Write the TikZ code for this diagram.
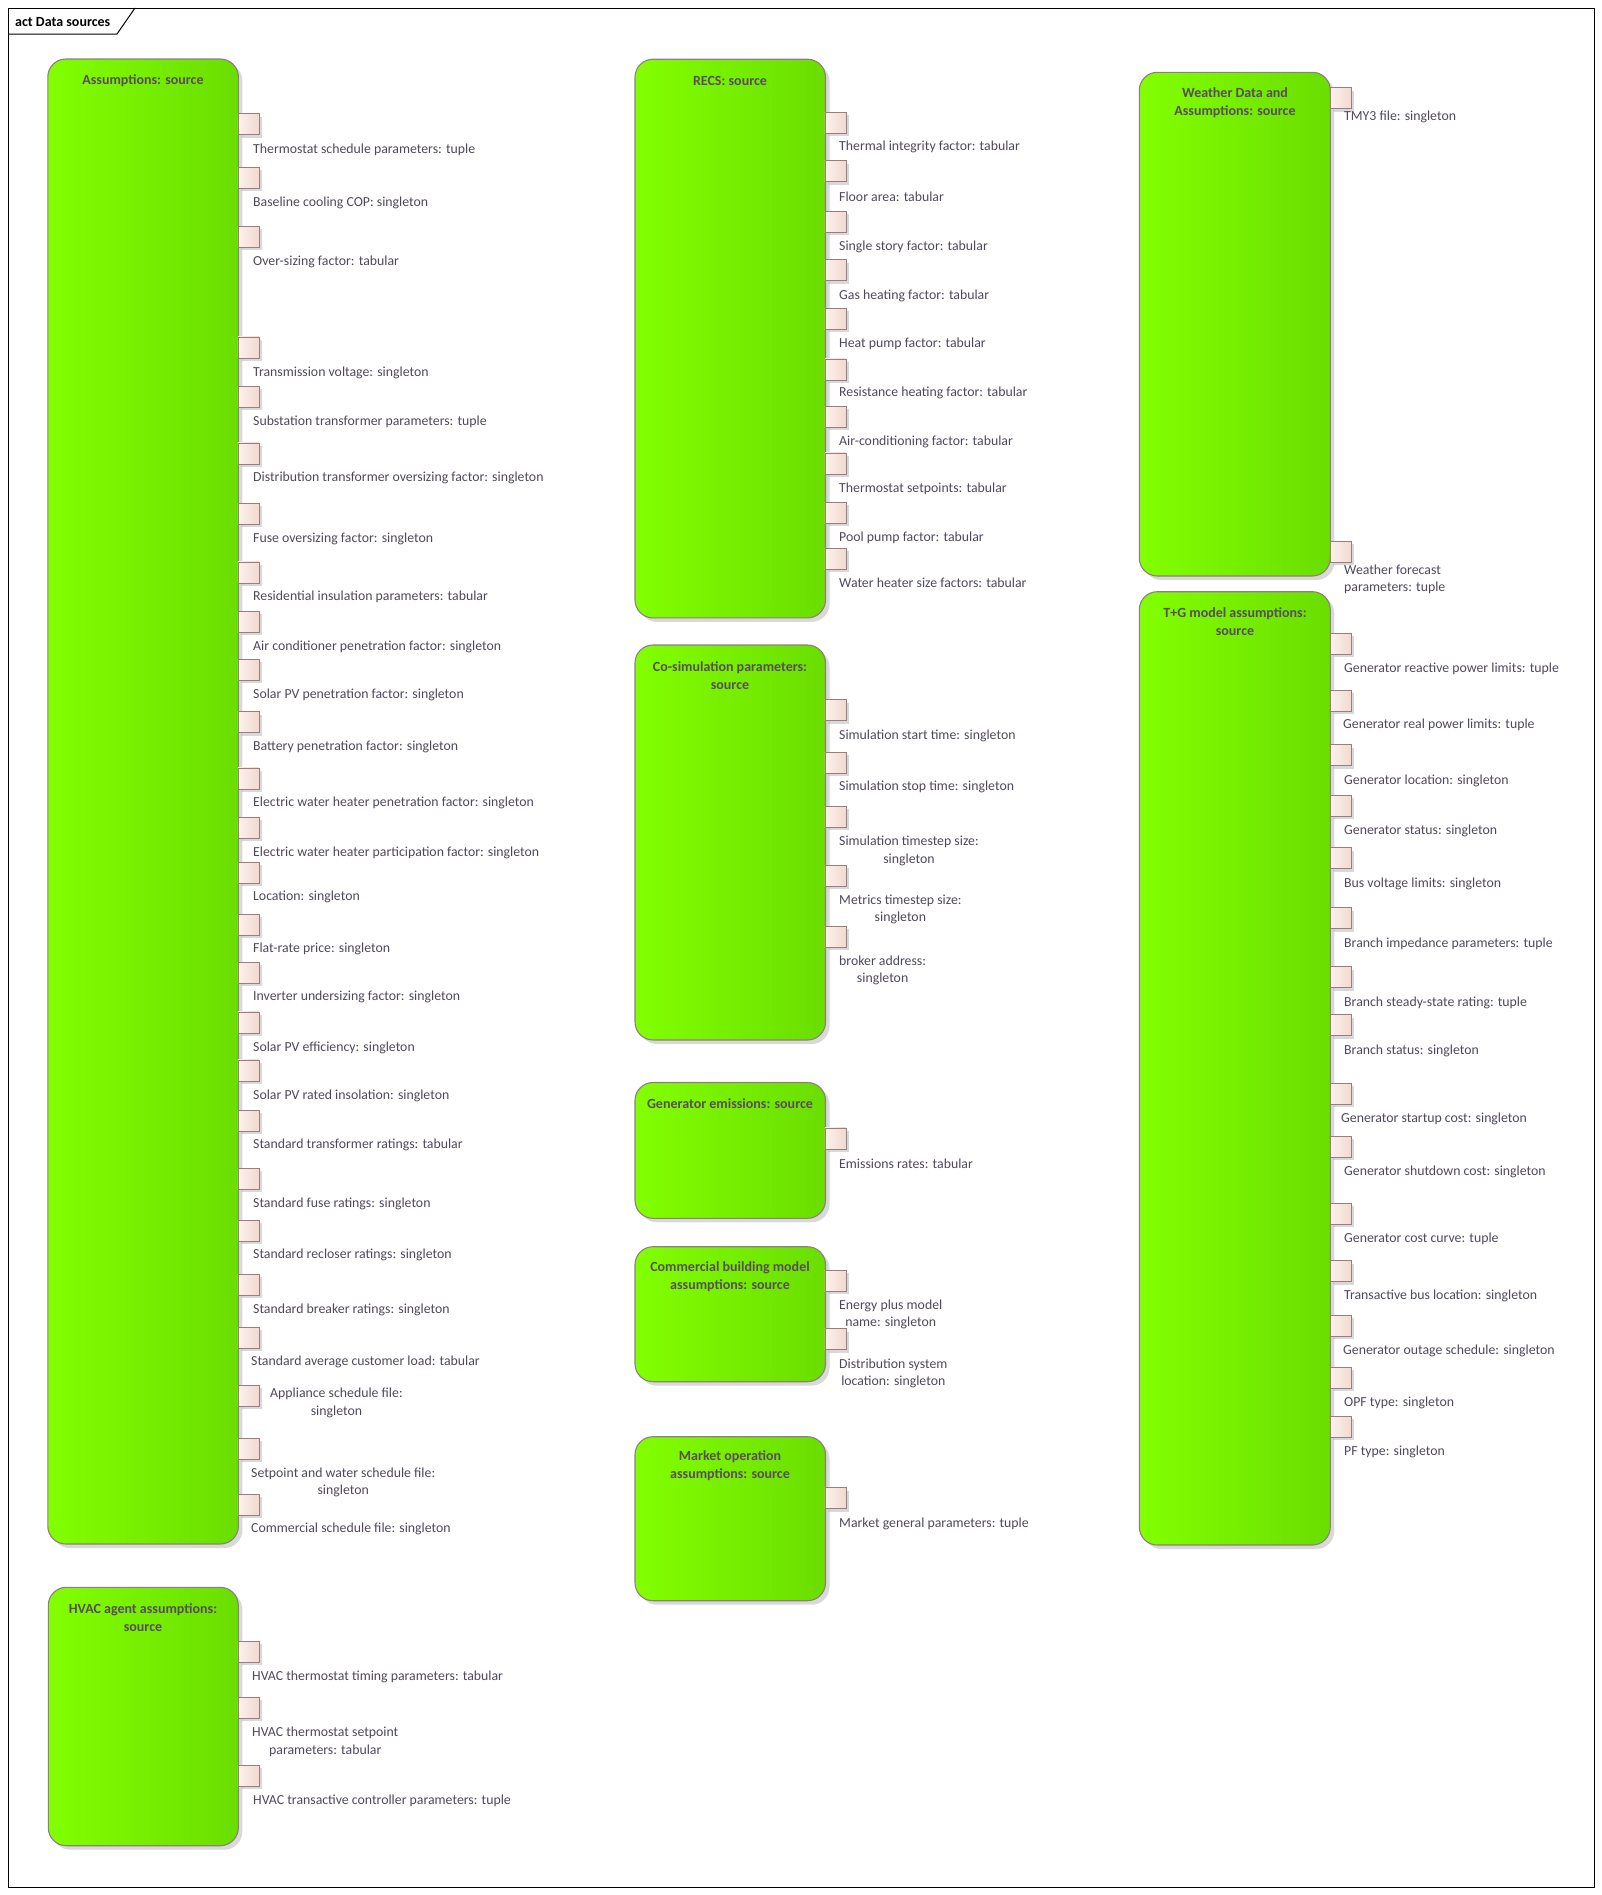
\documentclass[tikz,border=0pt]{standalone}
\usepackage{fontspec}
\setmainfont{Carlito}
\usetikzlibrary{shadows}
\definecolor{greenL}{RGB}{130,255,0}
\definecolor{greenR}{RGB}{106,222,0}
\definecolor{boxborder}{RGB}{145,125,128}
\definecolor{portL}{RGB}{252,241,236}
\definecolor{portR}{RGB}{240,218,208}
\definecolor{portborder}{RGB}{155,125,125}
\definecolor{txtc}{RGB}{80,72,90}
\definecolor{ttlc}{RGB}{90,76,92}
\begin{document}
\begin{tikzpicture}[x=1pt,y=-1pt,
  srcbox/.style={draw=boxborder, line width=1.1pt, rounded corners=18pt, left color=greenL, right color=greenR, anchor=north west, inner sep=0pt, outer sep=0pt, drop shadow={shadow xshift=4pt, shadow yshift=-4pt, fill=black!25, opacity=0.6}},
  portbox/.style={draw=portborder, line width=0.9pt, left color=portL, right color=portR, minimum width=21pt, minimum height=21pt, inner sep=0pt, anchor=north west, drop shadow={shadow xshift=3pt, shadow yshift=-3pt, fill=black!25, opacity=0.6}},
  lbl/.style={anchor=west, inner sep=0pt, yshift=-2.2pt, text=txtc, font=\fontsize{13.8}{17.5}\selectfont, align=center},
  lbll/.style={lbl, align=left},
  ttl/.style={inner sep=0pt, yshift=-2pt, text=ttlc, font=\bfseries\fontsize{14}{18}\selectfont, align=center}]
\useasboundingbox (0,0) rectangle (1602,1895);
% frame
\node[draw=black, line width=1.1pt, minimum width=1586pt, minimum height=1879pt, anchor=north west, inner sep=0pt] (frame) at (8,8) {};
\node[anchor=west, inner sep=0pt, font=\bfseries\fontsize{14}{16}\selectfont] (tab) at (15,22) {act Data sources};
\draw[line width=1pt] (8,34) -- (117,34) -- (135,8);

% ---------- Assumptions ----------
\node[srcbox, minimum width=190.6pt, minimum height=1485pt] (A) at (47.8,59) {};
\node[ttl] (tA) at (143,79) {Assumptions: source};
\foreach \y [count=\i] in {113.3,166.7,225.7,336.5,385.6,442.5,502.6,561.5,610.6,658.8,711.4,767.5,816.6,862.0,913.9,961.9,1011.5,1059.5,1109.6,1167.7,1219.9,1273.7,1326.8,1384.8,1437.9,1493.9}
  \node[portbox] (pA\i) at (237.5,\y) {};
\foreach \y/\t [count=\i] in {147.3/{Thermostat schedule parameters: tuple},
  200.3/{Baseline cooling COP: singleton},
  259.3/{Over-sizing factor: tabular},
  370.2/{Transmission voltage: singleton},
  419.2/{Substation transformer parameters: tuple},
  476.1/{Distribution transformer oversizing factor: singleton},
  536.2/{Fuse oversizing factor: singleton},
  595.1/{Residential insulation parameters: tabular},
  644.2/{Air conditioner penetration factor: singleton},
  692.4/{Solar PV penetration factor: singleton},
  745.0/{Battery penetration factor: singleton},
  801.1/{Electric water heater penetration factor: singleton},
  850.2/{Electric water heater participation factor: singleton},
  894.9/{Location: singleton},
  947.1/{Flat-rate price: singleton},
  995.1/{Inverter undersizing factor: singleton},
  1045.2/{Solar PV efficiency: singleton},
  1093.2/{Solar PV rated insolation: singleton},
  1142.4/{Standard transformer ratings: tabular},
  1201.3/{Standard fuse ratings: singleton},
  1253.1/{Standard recloser ratings: singleton},
  1307.4/{Standard breaker ratings: singleton}}
  \node[lbl] (lA\i) at (253,\y) {\t};
\node[lbl] (lA23) at (251,1360) {Standard average customer load: tabular};
\node[lbl] (lA24) at (270,1400.6) {Appliance schedule file:\\singleton};
\node[lbl] (lA25) at (251,1480.1) {Setpoint and water schedule file:\\singleton};
\node[lbl] (lA26) at (251,1527.1) {Commercial schedule file: singleton};

% ---------- HVAC ----------
\node[srcbox, minimum width=190pt, minimum height=258.4pt] (H) at (48.3,1587.3) {};
\node[ttl] (tH) at (143,1615.5) {HVAC agent assumptions:\\source};
\foreach \y [count=\i] in {1640.7,1696.7,1764.7}
  \node[portbox] (pH\i) at (237.5,\y) {};
\node[lbl] (lH1) at (252,1674.3) {HVAC thermostat timing parameters: tabular};
\node[lbl] (lH2) at (252,1739.5) {HVAC thermostat setpoint\\parameters: tabular};
\node[lbl] (lH3) at (253,1798.7) {HVAC transactive controller parameters: tuple};

% ---------- RECS ----------
\node[srcbox, minimum width=190.5pt, minimum height=558.7pt] (R) at (635,59.2) {};
\node[ttl] (tR) at (730,78.5) {RECS: source};
\foreach \y [count=\i] in {111.8,160.2,210.6,259.4,307.9,358.5,405.9,452.5,501.7,548}
  \node[portbox] (pR\i) at (824.5,\y) {};
\foreach \y/\t [count=\i] in {144.3/{Thermal integrity factor: tabular},
  194.3/{Floor area: tabular},
  244.2/{Single story factor: tabular},
  293.4/{Gas heating factor: tabular},
  341.5/{Heat pump factor: tabular},
  391.1/{Resistance heating factor: tabular},
  439.2/{Air-conditioning factor: tabular},
  486.5/{Thermostat setpoints: tabular},
  535.4/{Pool pump factor: tabular},
  580.1/{Water heater size factors: tabular}}
  \node[lbl] (lR\i) at (839,\y) {\t};

% ---------- Co-simulation ----------
\node[srcbox, minimum width=190.5pt, minimum height=395pt] (C) at (635,645) {};
\node[ttl] (tC) at (730,673.5) {Co-simulation parameters:\\source};
\foreach \y [count=\i] in {699.3,751.7,805.7,865,925.7}
  \node[portbox] (pC\i) at (824.5,\y) {};
\node[lbl] (lC1) at (839,733.7) {Simulation start time: singleton};
\node[lbl] (lC2) at (839,784.3) {Simulation stop time: singleton};
\node[lbl] (lC3) at (839,848.5) {Simulation timestep size:\\singleton};
\node[lbl] (lC4) at (839,907) {Metrics timestep size:\\singleton};
\node[lbl] (lC5) at (839,968.3) {broker address:\\singleton};

% ---------- Generator emissions ----------
\node[srcbox, minimum width=190.5pt, minimum height=135.8pt] (G) at (635,1082.5) {};
\node[ttl] (tG) at (730,1101.3) {Generator emissions: source};
\node[portbox] (pG1) at (824.5,1127.5) {};
\node[lbl] (lG1) at (839,1161.3) {Emissions rates: tabular};

% ---------- Commercial building ----------
\node[srcbox, minimum width=190.5pt, minimum height=135pt] (B) at (635,1246.7) {};
\node[ttl] (tB) at (730,1274.3) {Commercial building model\\assumptions: source};
\node[portbox] (pB1) at (824.5,1269.7) {};
\node[portbox] (pB2) at (824.5,1328.3) {};
\node[lbl] (lB1) at (839,1312.3) {Energy plus model\\name: singleton};
\node[lbl] (lB2) at (839,1371) {Distribution system\\location: singleton};

% ---------- Market operation ----------
\node[srcbox, minimum width=190.5pt, minimum height=164pt] (M) at (635,1436.7) {};
\node[ttl] (tM) at (730,1463.5) {Market operation\\assumptions: source};
\node[portbox] (pM1) at (824.5,1487.3) {};
\node[lbl] (lM1) at (839,1521.7) {Market general parameters: tuple};

% ---------- Weather ----------
\node[srcbox, minimum width=191pt, minimum height=503.7pt] (W) at (1139.3,72.3) {};
\node[ttl] (tW) at (1235,100.3) {Weather Data and\\Assumptions: source};
\node[portbox] (pW1) at (1330,87.3) {};
\node[portbox] (pW2) at (1330,540.7) {};
\node[lbl] (lW1) at (1344,114.3) {TMY3 file: singleton};
\node[lbll] (lW2) at (1344,577) {Weather forecast\\parameters: tuple};

% ---------- T+G ----------
\node[srcbox, minimum width=191pt, minimum height=953.3pt] (T) at (1139.3,591.7) {};
\node[ttl] (tT) at (1235,619.7) {T+G model assumptions:\\source};
\foreach \y [count=\i] in {632.7,689.7,744.3,794.7,847.3,907.3,966.3,1014.3,1082.7,1135.7,1202.7,1260.3,1314.7,1366.7,1415.7}
  \node[portbox] (pT\i) at (1330,\y) {};
\foreach \y/\x/\t [count=\i] in {666.7/1344/{Generator reactive power limits: tuple},
  722.7/1343/{Generator real power limits: tuple},
  778.7/1344/{Generator location: singleton},
  828.7/1344/{Generator status: singleton},
  881.7/1344/{Bus voltage limits: singleton},
  941.3/1344/{Branch impedance parameters: tuple},
  1000.7/1344/{Branch steady-state rating: tuple},
  1048.7/1344/{Branch status: singleton},
  1116.7/1341/{Generator startup cost: singleton},
  1169.7/1344/{Generator shutdown cost: singleton},
  1236.7/1344/{Generator cost curve: tuple},
  1293.7/1344/{Transactive bus location: singleton},
  1348.7/1343/{Generator outage schedule: singleton},
  1400.7/1344/{OPF type: singleton},
  1449.7/1344/{PF type: singleton}}
  \node[lbl] (lT\i) at (\x,\y) {\t};
\end{tikzpicture}
\end{document}
